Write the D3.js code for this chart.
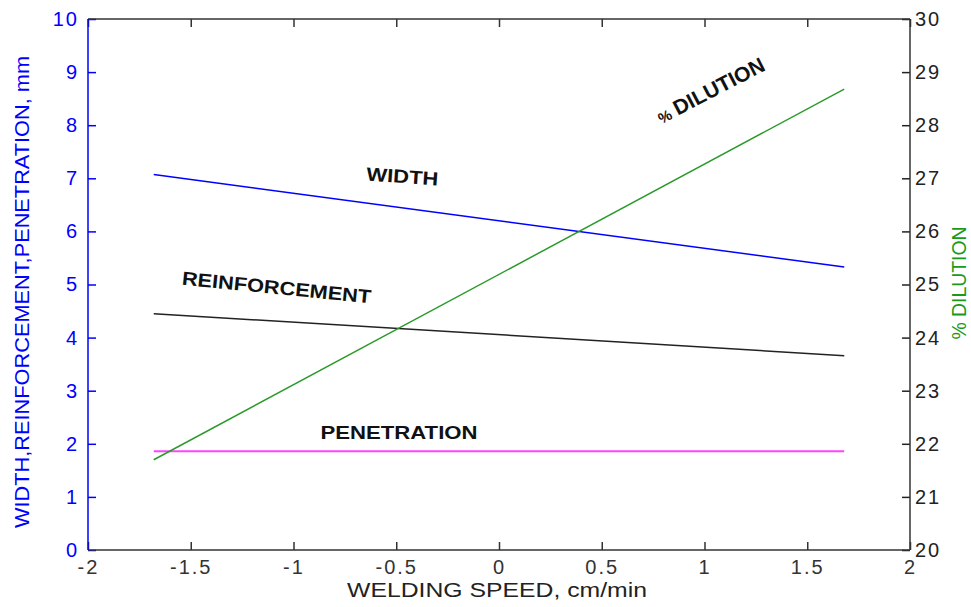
<!DOCTYPE html>
<html>
<head>
<meta charset="utf-8">
<script src="https://cdn.jsdelivr.net/npm/d3@7"></script>
<style>
    body { margin: 0; background: #fff; }
    svg { display: block; font-family: Arial, "Liberation Sans", sans-serif; }
</style>
</head>
<body>
<svg id="drawing_region"></svg>
<script>
// welding speed (coded), start and end of each fitted line
const speed = [-1.68, 1.68];
const widthMm = [7.07, 5.33];
const reinforcementMm = [4.45, 3.66];
const penetrationMm = [1.86, 1.86];
const dilutionPct = [21.7, 28.68];

const xTicks = [-2, -1.5, -1, -0.5, 0, 0.5, 1, 1.5, 2];
const leftTicks = [0, 1, 2, 3, 4, 5, 6, 7, 8, 9, 10];
const rightTicks = [20, 21, 22, 23, 24, 25, 26, 27, 28, 29, 30];

var config = {
    parent: '#drawing_region',
    width: 971,
    height: 607,
    margin: {top:19, right:61, bottom:57, left:88}
};

const svg = d3.select(config.parent)
    .attr('width', config.width)
    .attr('height', config.height);

const inner_width = config.width - config.margin.left - config.margin.right;
const inner_height = config.height - config.margin.top - config.margin.bottom;

const chart = svg.append('g')
    .attr('transform', `translate(${config.margin.left}, ${config.margin.top})`);

const xscale = d3.scaleLinear().domain([-2, 2]).range([0, inner_width]);
const yscale = d3.scaleLinear().domain([0, 10]).range([inner_height, 0]);
const y2scale = d3.scaleLinear().domain([20, 30]).range([inner_height, 0]);

const axisColor = '#333';
const tickFont = '20px';

function styleAxis(g, color) {
    g.select('.domain').remove();
    g.selectAll('line').attr('stroke', color).attr('stroke-width', 1.5);
    g.selectAll('text')
        .attr('fill', color)
        .style('font-size', tickFont)
        .style('letter-spacing', '2px');
}

// bottom axis
chart.append('g')
    .attr('transform', `translate(0, ${inner_height})`)
    .call(d3.axisBottom(xscale).tickValues(xTicks).tickFormat(d => String(d))
        .tickSizeInner(-8).tickSizeOuter(0).tickPadding(10))
    .call(g => styleAxis(g, axisColor));

// top axis (ticks only)
chart.append('g')
    .call(d3.axisTop(xscale).tickValues(xTicks).tickFormat('')
        .tickSizeInner(-8).tickSizeOuter(0))
    .call(g => styleAxis(g, axisColor));

// left axis
chart.append('g')
    .call(d3.axisLeft(yscale).tickValues(leftTicks).tickFormat(d => String(d))
        .tickSizeInner(-8).tickSizeOuter(0).tickPadding(9))
    .call(g => styleAxis(g, '#0000ff'));

// right axis
chart.append('g')
    .attr('transform', `translate(${inner_width}, 0)`)
    .call(d3.axisRight(y2scale).tickValues(rightTicks).tickFormat(d => String(d))
        .tickSizeInner(-8).tickSizeOuter(0).tickPadding(5))
    .call(g => styleAxis(g, '#222'));

// frame
chart.append('line').attr('x1', 0).attr('x2', inner_width).attr('y1', 0).attr('y2', 0)
    .attr('stroke', axisColor).attr('stroke-width', 1.5);
chart.append('line').attr('x1', 0).attr('x2', inner_width).attr('y1', inner_height).attr('y2', inner_height)
    .attr('stroke', axisColor).attr('stroke-width', 1.5);
chart.append('line').attr('x1', inner_width).attr('x2', inner_width).attr('y1', 0).attr('y2', inner_height)
    .attr('stroke', axisColor).attr('stroke-width', 1.5);
chart.append('line').attr('x1', 0).attr('x2', 0).attr('y1', 0).attr('y2', inner_height)
    .attr('stroke', '#0000ff').attr('stroke-width', 1.5);

// lines
const series = [
    {values: widthMm, scale: yscale, color: '#0000ff', w: 1.5},
    {values: reinforcementMm, scale: yscale, color: '#222', w: 1.5},
    {values: penetrationMm, scale: yscale, color: '#ff44ff', w: 2},
    {values: dilutionPct, scale: y2scale, color: '#2a9a2a', w: 1.5}
];

series.forEach(s => {
    const line = d3.line()
        .x((d, i) => xscale(speed[i]))
        .y(d => s.scale(d));
    chart.append('path')
        .datum(s.values)
        .attr('d', line)
        .attr('fill', 'none')
        .attr('stroke', s.color)
        .attr('stroke-width', s.w);
});

// in-plot labels
function label(text, x, y, angle, len) {
    svg.append('text')
        .attr('transform', `translate(${x}, ${y}) rotate(${angle})`)
        .attr('text-anchor', 'middle')
        .attr('textLength', len)
        .attr('lengthAdjust', 'spacingAndGlyphs')
        .style('font-size', '19px')
        .style('font-weight', 'bold')
        .attr('fill', '#111')
        .text(text);
}
label('WIDTH', 402, 183, 4, 72);
label('REINFORCEMENT', 276, 294, 5.7, 190);
label('PENETRATION', 399, 439, 0, 157);

const dil = svg.append('text')
    .attr('transform', 'translate(714, 97) rotate(-27.4)')
    .attr('text-anchor', 'middle')
    .style('font-weight', 'bold')
    .attr('fill', '#111');
dil.append('tspan').style('font-size', '15px').text('%');
dil.append('tspan').style('font-size', '21px').attr('dx', 5)
    .attr('textLength', 100).attr('lengthAdjust', 'spacingAndGlyphs')
    .text('DILUTION');

// axis titles
svg.append('text')
    .attr('x', 497).attr('y', 597)
    .attr('text-anchor', 'middle')
    .attr('textLength', 300)
    .attr('lengthAdjust', 'spacingAndGlyphs')
    .style('font-size', '20px')
    .attr('fill', '#222')
    .text('WELDING SPEED, cm/min');

svg.append('text')
    .attr('transform', 'translate(29, 292) rotate(-90)')
    .attr('text-anchor', 'middle')
    .attr('textLength', 472)
    .attr('lengthAdjust', 'spacingAndGlyphs')
    .style('font-size', '20px')
    .attr('fill', '#0000ff')
    .text('WIDTH,REINFORCEMENT,PENETRATION, mm');

svg.append('text')
    .attr('transform', 'translate(966, 283) rotate(-90)')
    .attr('text-anchor', 'middle')
    .attr('textLength', 113)
    .attr('lengthAdjust', 'spacingAndGlyphs')
    .style('font-size', '20px')
    .attr('fill', '#1a9a1a')
    .text('% DILUTION');
</script>
</body>
</html>
